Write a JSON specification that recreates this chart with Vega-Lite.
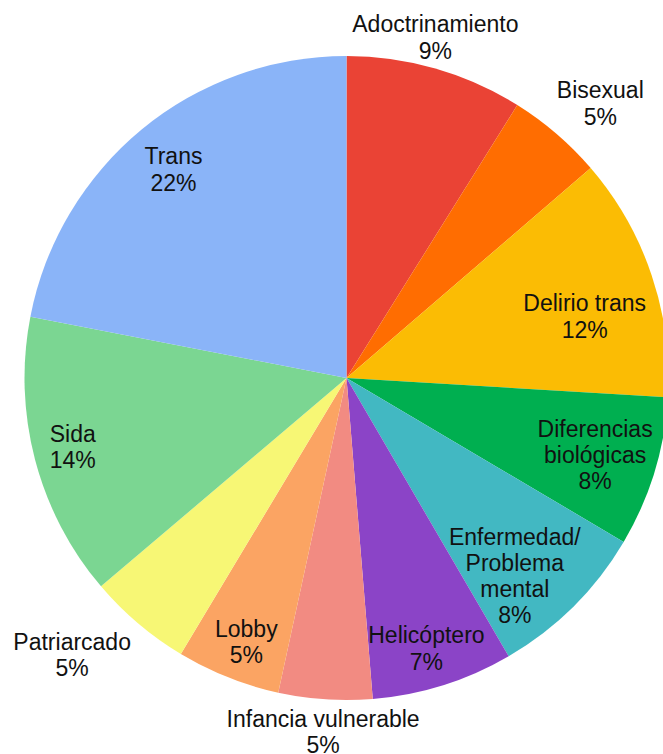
{
  "$schema": "https://vega.github.io/schema/vega-lite/v6.json",
  "width": 633,
  "height": 752,
  "autosize": {"type": "none"},
  "padding": {"left": 30, "top": 2, "right": 0, "bottom": 0},
  "background": "white",
  "config": {"view": {"stroke": null}},
  "data": {
    "values": [
      {"name": "Adoctrinamiento", "value": 8.9, "label": "Adoctrinamiento\n9%"},
      {"name": "Bisexual", "value": 4.8, "label": "Bisexual\n5%"},
      {"name": "Delirio trans", "value": 12.25, "label": "Delirio trans\n12%"},
      {"name": "Diferencias biológicas", "value": 7.55, "label": "Diferencias\nbiológicas\n8%"},
      {"name": "Enfermedad/Problema mental", "value": 8.1, "label": "Enfermedad/\nProblema\nmental\n8%"},
      {"name": "Helicóptero", "value": 7.1, "label": "Helicóptero\n7%"},
      {"name": "Infancia vulnerable", "value": 4.7, "label": "Infancia vulnerable\n5%"},
      {"name": "Lobby", "value": 5.2, "label": "Lobby\n5%"},
      {"name": "Patriarcado", "value": 5.2, "label": "Patriarcado\n5%"},
      {"name": "Sida", "value": 14.25, "label": "Sida\n14%"},
      {"name": "Trans", "value": 21.95, "label": "Trans\n22%"}
    ]
  },
  "encoding": {
    "theta": {"field": "value", "type": "quantitative", "stack": true}
  },
  "layer": [
    {
      "mark": {"type": "arc", "outerRadius": 322},
      "encoding": {
        "color": {
          "field": "name",
          "type": "nominal",
          "legend": null,
          "scale": {
            "domain": ["Adoctrinamiento", "Bisexual", "Delirio trans", "Diferencias biológicas", "Enfermedad/Problema mental", "Helicóptero", "Infancia vulnerable", "Lobby", "Patriarcado", "Sida", "Trans"],
            "range": ["#EA4335", "#FF6D01", "#FBBC04", "#00AF50", "#42B8C2", "#8B44C7", "#F28B82", "#FBA463", "#F7F775", "#7BD692", "#8AB4F8"]
          }
        }
      }
    },
    {
      "mark": {"type": "text", "radius": 351, "dx": -8, "dy": -16, "fontSize": 23, "font": "Liberation Sans", "lineBreak": "\n", "lineHeight": 27, "align": "center", "baseline": "middle", "color": "#111"},
      "encoding": {"detail": {"field": "name"}, "text": {"condition": {"test": "datum.name === 'Adoctrinamiento'", "field": "label"}, "value": ""}}
    },
    {
      "mark": {"type": "text", "radius": 374, "dx": 10, "dy": -3, "fontSize": 23, "font": "Liberation Sans", "lineBreak": "\n", "lineHeight": 27, "align": "center", "baseline": "middle", "color": "#111"},
      "encoding": {"detail": {"field": "name"}, "text": {"condition": {"test": "datum.name === 'Bisexual'", "field": "label"}, "value": ""}}
    },
    {
      "mark": {"type": "text", "radius": 245, "dx": 6, "dy": 4, "fontSize": 23, "font": "Liberation Sans", "lineBreak": "\n", "lineHeight": 27, "align": "center", "baseline": "middle", "color": "#111"},
      "encoding": {"detail": {"field": "name"}, "text": {"condition": {"test": "datum.name === 'Delirio trans'", "field": "label"}, "value": ""}}
    },
    {
      "mark": {"type": "text", "radius": 260, "dy": -24, "fontSize": 23, "font": "Liberation Sans", "lineBreak": "\n", "lineHeight": 26, "align": "center", "baseline": "middle", "color": "#111"},
      "encoding": {"detail": {"field": "name"}, "text": {"condition": {"test": "datum.name === 'Diferencias biológicas'", "field": "label"}, "value": ""}}
    },
    {
      "mark": {"type": "text", "radius": 260, "dx": -15, "dy": -24, "fontSize": 23, "font": "Liberation Sans", "lineBreak": "\n", "lineHeight": 26, "align": "center", "baseline": "middle", "color": "#111"},
      "encoding": {"detail": {"field": "name"}, "text": {"condition": {"test": "datum.name === 'Enfermedad/Problema mental'", "field": "label"}, "value": ""}}
    },
    {
      "mark": {"type": "text", "radius": 283, "dx": -5, "dy": -12, "fontSize": 23, "font": "Liberation Sans", "lineBreak": "\n", "lineHeight": 27, "align": "center", "baseline": "middle", "color": "#111"},
      "encoding": {"detail": {"field": "name"}, "text": {"condition": {"test": "datum.name === 'Helicóptero'", "field": "label"}, "value": ""}}
    },
    {
      "mark": {"type": "text", "radius": 355, "dy": -12, "fontSize": 23, "font": "Liberation Sans", "lineBreak": "\n", "lineHeight": 26, "align": "center", "baseline": "middle", "color": "#111"},
      "encoding": {"detail": {"field": "name"}, "text": {"condition": {"test": "datum.name === 'Infancia vulnerable'", "field": "label"}, "value": ""}}
    },
    {
      "mark": {"type": "text", "radius": 283, "dx": 4, "dy": -11, "fontSize": 23, "font": "Liberation Sans", "lineBreak": "\n", "lineHeight": 26, "align": "center", "baseline": "middle", "color": "#111"},
      "encoding": {"detail": {"field": "name"}, "text": {"condition": {"test": "datum.name === 'Lobby'", "field": "label"}, "value": ""}}
    },
    {
      "mark": {"type": "text", "radius": 390, "dx": -22, "dy": -32, "fontSize": 23, "font": "Liberation Sans", "lineBreak": "\n", "lineHeight": 26, "align": "center", "baseline": "middle", "color": "#111"},
      "encoding": {"detail": {"field": "name"}, "text": {"condition": {"test": "datum.name === 'Patriarcado'", "field": "label"}, "value": ""}}
    },
    {
      "mark": {"type": "text", "radius": 283, "dy": -15, "fontSize": 23, "font": "Liberation Sans", "lineBreak": "\n", "lineHeight": 26, "align": "center", "baseline": "middle", "color": "#111"},
      "encoding": {"detail": {"field": "name"}, "text": {"condition": {"test": "datum.name === 'Sida'", "field": "label"}, "value": ""}}
    },
    {
      "mark": {"type": "text", "radius": 272, "dy": -11, "fontSize": 23, "font": "Liberation Sans", "lineBreak": "\n", "lineHeight": 27, "align": "center", "baseline": "middle", "color": "#111"},
      "encoding": {"detail": {"field": "name"}, "text": {"condition": {"test": "datum.name === 'Trans'", "field": "label"}, "value": ""}}
    }
  ]
}
